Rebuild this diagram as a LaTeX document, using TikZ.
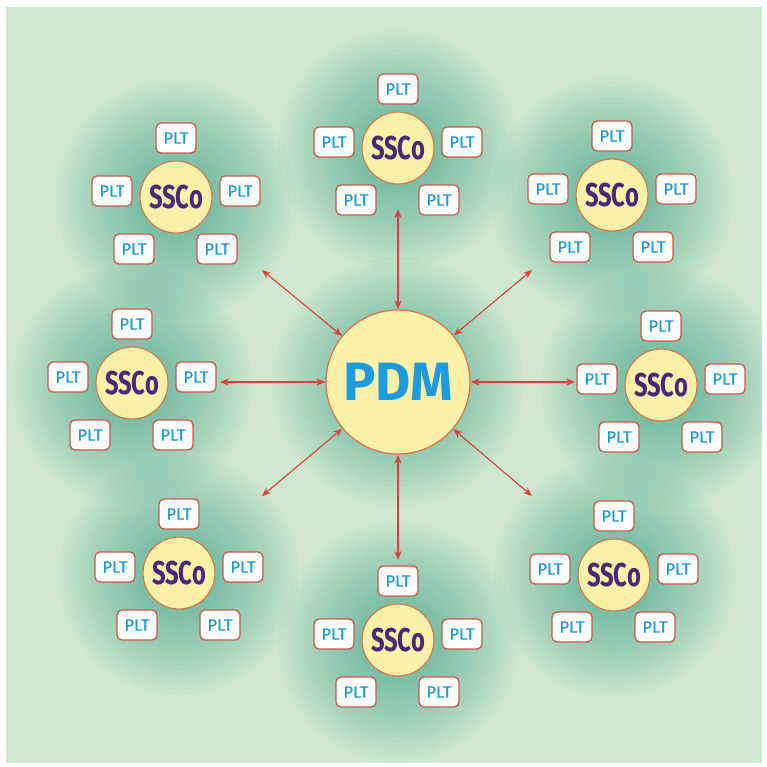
\documentclass[tikz,border=0pt]{standalone}
\usepackage{fontspec}
\setmainfont{Fira Sans}
\newfontfamily\condfont[FakeStretch=0.72]{Fira Sans}
\newfontfamily\pltfont[FakeBold=0.6]{Fira Sans}
\usetikzlibrary{arrows.meta}

\definecolor{panelbg}{HTML}{D0E8D0}
\definecolor{glowc}{HTML}{2A9882}
\definecolor{discfill}{HTML}{FDF1A9}
\definecolor{discline}{HTML}{D27A4C}
\definecolor{boxline}{HTML}{C85A48}
\definecolor{pltblue}{HTML}{1E98D5}
\definecolor{sscopurple}{HTML}{4A2878}
\definecolor{pdmblue}{HTML}{1D9BDD}
\definecolor{arrowred}{HTML}{D8403A}

\tikzset{
  pltbox/.style={draw=boxline, line width=1.3pt, fill=white, rounded corners=5pt,
    minimum width=40pt, minimum height=30pt, inner sep=0pt, text=pltblue,
    font=\pltfont\fontsize{16.5}{16.5}\selectfont},
  sscodisc/.style={circle, draw=discline, line width=1.2pt, fill=discfill,
    minimum size=72pt, inner sep=0pt, text=sscopurple,
    font=\condfont\bfseries\fontsize{33}{33}\selectfont},
  pdmdisc/.style={circle, draw=discline, line width=1.3pt, fill=discfill,
    minimum size=144pt, inner sep=0pt, text=pdmblue,
    font=\bfseries\fontsize{54}{54}\selectfont},
  link/.style={arrowred, line width=1.1pt,
    {Stealth[length=9pt,width=7pt]}-{Stealth[length=9pt,width=7pt]}},
  halolayer/.style={glowc, fill opacity=0.035}
}

% soft teal halo: stacked translucent discs, darker towards the middle
\newcommand\halo[3]{%
  \foreach \r in {20,25,...,#3}
    \fill[halolayer] (#1,#2) circle (\r);}

% one SSCo disc with its five PLT boxes
\newcommand\plantgroup[3]{%
  \begin{scope}[shift={(#2,#3)}]
    \node[sscodisc] (#1) at (0,0) {SSCo};
    \node[pltbox] (#1-t)  at (0,-59)  {PLT};
    \node[pltbox] (#1-l)  at (-64,-6) {PLT};
    \node[pltbox] (#1-r)  at (64,-6)  {PLT};
    \node[pltbox] (#1-bl) at (-42,52) {PLT};
    \node[pltbox] (#1-br) at (41,52)  {PLT};
  \end{scope}}

\begin{document}
\begin{tikzpicture}[x=1pt, y=-1pt]
  \useasboundingbox (0,0) rectangle (767,766);
  \fill[white] (0,0) rectangle (767,766);
  \fill[panelbg] (6,7) rectangle (762,763);

  \begin{scope}
    \clip (6,7) rectangle (762,763);
    \halo{398}{150}{120}
    \halo{176}{199}{120}
    \halo{612}{197}{120}
    \halo{132}{385}{120}
    \halo{661}{387}{120}
    \halo{179}{575}{120}
    \halo{398}{642}{120}
    \halo{614}{577}{120}
    \halo{398}{382}{125}
  \end{scope}

  \node[pdmdisc] (pdm) at (398,382) {PDM};

  \plantgroup{g1}{398}{148}
  \plantgroup{g2}{176}{197}
  \plantgroup{g3}{612}{195}
  \plantgroup{g4}{132}{383}
  \plantgroup{g5}{661}{385}
  \plantgroup{g6}{179}{573}
  \plantgroup{g7}{398}{640}
  \plantgroup{g8}{614}{575}

  % free ends of the links, pointing at the groups
  \coordinate (e1) at (398,209);
  \coordinate (e2) at (262,270);
  \coordinate (e3) at (532,270);
  \coordinate (e4) at (220,382);
  \coordinate (e5) at (575,382);
  \coordinate (e6) at (262,496);
  \coordinate (e7) at (398,560);
  \coordinate (e8) at (532,496);

  \foreach \e in {e1,e2,e3,e4,e5,e6,e7,e8}
    \draw[link] (pdm) -- (\e);
\end{tikzpicture}
\end{document}
